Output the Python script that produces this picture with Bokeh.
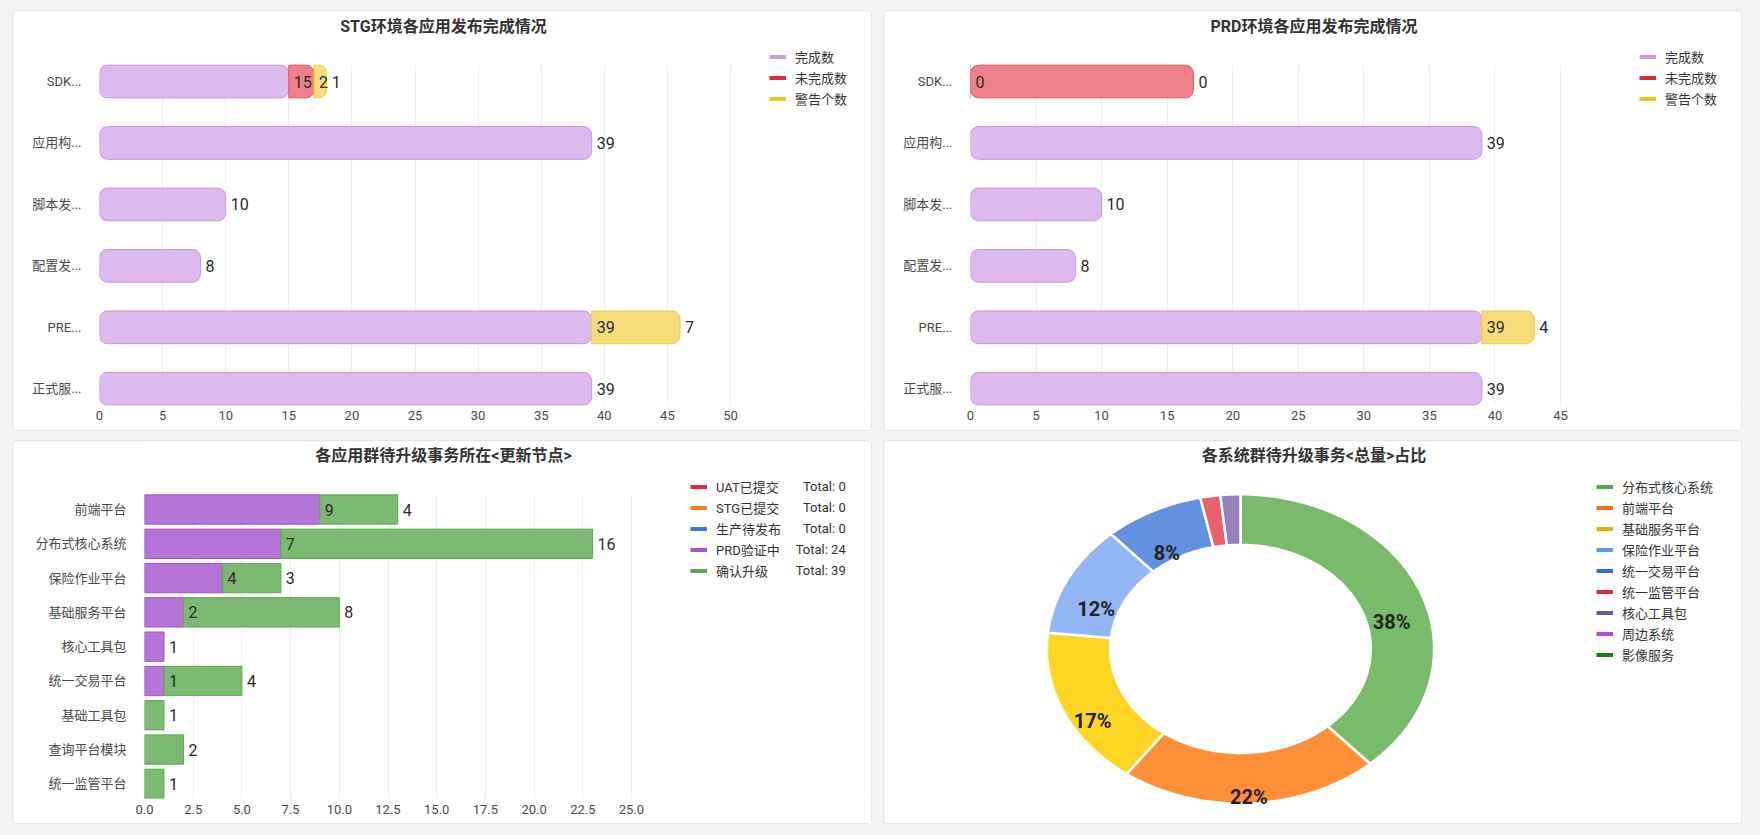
import math
from bokeh.plotting import figure
from bokeh.models import (Range1d, FixedTicker, Legend, LegendItem, Label,
                          ColumnDataSource)
from bokeh.layouts import row, column
from bokeh.embed import file_html
from bokeh.resources import INLINE
from bokeh.core.properties import value

FONT = "Roboto, 'Noto Sans CJK SC', sans-serif"

# ---------------------------------------------------------------- data
release_apps = ["SDK...", "应用构...", "脚本发...", "配置发...", "PRE...", "正式服..."]
release_series = ["完成数", "未完成数", "警告个数"]

stg_done = [15, 39, 10, 8, 39, 39]
stg_undone = [2, None, None, None, None, None]
stg_warn = [1, None, None, None, 7, None]
stg_ticks = [0, 5, 10, 15, 20, 25, 30, 35, 40, 45, 50]

prd_done = [0, 39, 10, 8, 39, 39]
prd_undone = [17, None, None, None, None, None]
prd_undone_text = ["0", None, None, None, None, None]
prd_warn = [None, None, None, None, 4, None]
prd_ticks = [0, 5, 10, 15, 20, 25, 30, 35, 40, 45]

groups = ["前端平台", "分布式核心系统", "保险作业平台", "基础服务平台", "核心工具包",
          "统一交易平台", "基础工具包", "查询平台模块", "统一监管平台"]
stage_names = ["UAT已提交", "STG已提交", "生产待发布", "PRD验证中", "确认升级"]
stage_uat = [0, 0, 0, 0, 0, 0, 0, 0, 0]
stage_stg = [0, 0, 0, 0, 0, 0, 0, 0, 0]
stage_pending = [0, 0, 0, 0, 0, 0, 0, 0, 0]
stage_prd = [9, 7, 4, 2, 1, 1, 0, 0, 0]
stage_confirmed = [4, 16, 3, 8, 0, 4, 1, 2, 1]
group_ticks = [0, 2.5, 5, 7.5, 10, 12.5, 15, 17.5, 20, 22.5, 25]
group_tick_labels = ["0.0", "2.5", "5.0", "7.5", "10.0", "12.5", "15.0",
                     "17.5", "20.0", "22.5", "25.0"]

systems = ["分布式核心系统", "前端平台", "基础服务平台", "保险作业平台", "统一交易平台",
           "统一监管平台", "核心工具包", "周边系统", "影像服务"]
system_counts = [23, 13, 10, 7, 5, 1, 1, 0, 0]

# ---------------------------------------------------------------- styles
REL_FILL = ["#ddbaed", "#ef7f88", "#f7dc79"]
REL_LINE = ["#c892e3", "#e2535f", "#f0cb45"]
REL_LEG = ["#cf9ae6", "#e0283c", "#f5c518"]
STAGE_FILL = ["#e0283c", "#ff7a1a", "#3579d9", "#b574d8", "#7cb972"]
STAGE_LINE = ["#c81e30", "#e8680f", "#2a64b8", "#9d55c8", "#5ea654"]
STAGE_LEG = ["#e0283c", "#ff7a1a", "#3579d9", "#a257d0", "#5ba653"]
PIE_FILL = ["#78bc6b", "#ff9038", "#ffd523", "#93b6f5", "#6392e0", "#e8616d",
            "#9582b8", "#b14fd6", "#1b7c1b"]
PIE_LEG = ["#55a84a", "#ff6a14", "#e0b300", "#5c9cf0", "#2e72d8", "#e0273b",
           "#6c57a3", "#b14fd6", "#1b7c1b"]
CARD = {"border": "1px solid #e4e7ea", "border-radius": "4px", "overflow": "hidden"}
TEXT_DARK = "#333333"
AXIS_TEXT = "#4a4a4a"
GRID = "#eeeeee"
NAN = float("nan")


def drop_title(p):
    try:
        p.title = None
    except Exception:
        p.title.visible = False


def make_figure(W, H, L, B, xr, yr, **kw):
    p = figure(width=W, height=H, output_backend="svg", toolbar_location=None,
               x_range=xr, y_range=yr,
               min_border_left=L, min_border_right=0, min_border_top=0,
               min_border_bottom=B, outline_line_color=None,
               background_fill_color="white", border_fill_color="white", styles=CARD,
               **kw)
    drop_title(p)
    try:
        p.frame_align = False      # keep each panel's frame independent of its neighbour
    except Exception:
        pass
    return p


def bar_figure(W, H, L, B, xppu, c0, pitch):
    # frame spans from the left axis to the right edge and from the top edge to the x axis
    xr = Range1d(0, (W - L) / xppu)
    yr = Range1d((H - B - c0) / pitch, -c0 / pitch)
    return make_figure(W, H, L, B, xr, yr)


def style_axes(p, y_names, x_ticks, x_labels, xstand, ystand, grid_top, grid_bottom):
    p.ygrid.visible = False
    p.xgrid.grid_line_color = GRID
    p.xgrid.ticker = FixedTicker(ticks=x_ticks)
    try:
        p.xgrid.cross_bounds = (min(grid_top, grid_bottom), max(grid_top, grid_bottom))
    except Exception:
        p.xgrid.visible = False
        p.segment(x0=x_ticks, x1=x_ticks, y0=[grid_top] * len(x_ticks),
                  y1=[grid_bottom] * len(x_ticks), line_color=GRID, line_width=1)
    p.xaxis.ticker = FixedTicker(ticks=x_ticks)
    if x_labels is not None:
        p.xaxis.major_label_overrides = {t: s for t, s in zip(x_ticks, x_labels)}
    p.yaxis.ticker = FixedTicker(ticks=list(range(len(y_names))))
    p.yaxis.major_label_overrides = {i: s for i, s in enumerate(y_names)}
    for ax, st in ((p.xaxis, xstand), (p.yaxis, ystand)):
        ax.axis_line_color = None
        ax.major_tick_line_color = None
        ax.minor_tick_line_color = None
        ax.major_tick_out = 0
        ax.major_tick_in = 0
        ax.minor_tick_out = 0
        ax.major_label_text_font = FONT
        ax.major_label_text_font_size = "13px"
        ax.major_label_text_color = AXIS_TEXT
        ax.major_label_standoff = st


def add_title(p, text, cx, cy, L, H, B):
    p.add_layout(Label(x=cx - L, y=(H - B) - cy, x_units="screen", y_units="screen",
                       text=text, text_align="center", text_baseline="middle",
                       text_font=FONT, text_font_size="16px", text_font_style="bold",
                       text_color=TEXT_DARK))


ROW_H = 21


def add_legend(p, names, colors, sw_left, first_cy, L, H, B, extra=None):
    rends = [p.line(x=[NAN], y=[NAN], line_color=c, line_width=4) for c in colors]
    top = first_cy - ROW_H / 2
    vy = (H - B) - (top + ROW_H * len(names))
    common = dict(orientation="vertical", padding=0, spacing=0, margin=0,
                  glyph_height=ROW_H, label_height=ROW_H,
                  label_text_font=FONT, label_text_font_size="13px",
                  label_text_color=TEXT_DARK, border_line_color=None,
                  background_fill_alpha=0)
    leg = Legend(items=[LegendItem(label=n, renderers=[r]) for n, r in zip(names, rends)],
                 location=(sw_left - L, vy), glyph_width=17, label_standoff=9, **common)
    p.add_layout(leg)
    if extra is not None:
        texts, text_left = extra
        ghosts = [p.line(x=[NAN], y=[NAN], line_alpha=0) for _ in texts]
        leg2 = Legend(items=[LegendItem(label=t, renderers=[g]) for t, g in zip(texts, ghosts)],
                      location=(text_left - L, vy), glyph_width=0, label_standoff=0,
                      **common)
        p.add_layout(leg2)


def stacked(p, series, texts, fills, lines, height, full_radius, seg_radius, label_size):
    n = len(series[0])
    base = [0.0] * n
    label_sources = []
    for k, vals in enumerate(series):
        groups_by_radius = {}
        for i, v in enumerate(vals):
            if v is None:
                continue
            left = base[i]
            rad = full_radius if left == 0 else seg_radius
            g = groups_by_radius.setdefault(str(rad), (rad, dict(y=[], left=[], right=[], label=[])))
            d = g[1]
            d["y"].append(i)
            d["left"].append(left)
            d["right"].append(left + v)
            t = texts[k][i] if texts[k] is not None and texts[k][i] is not None else str(v)
            d["label"].append(t)
            base[i] += v
        for rad, d in groups_by_radius.values():
            src = ColumnDataSource(d)
            kw = dict(y="y", left="left", right="right", height=height, source=src,
                      fill_color=fills[k], line_color=lines[k], line_width=1)
            try:
                p.hbar(border_radius=rad, **kw)
            except Exception:
                p.hbar(**kw)
            label_sources.append(src)
    for src in label_sources:
        p.text(x="right", y="y", text="label", source=src, x_offset=5,
               text_baseline="middle", text_align="left", text_font=value(FONT),
               text_font_size=label_size, text_color="#2b2b2b")


# ---------------------------------------------------------------- release charts
def release_chart(title, done, undone, undone_text, warn, ticks, W, frame_w):
    H, L, B = 421, 86, 27
    C0, PITCH = 70, 61.46
    p = bar_figure(W, H, L, B, frame_w / ticks[-1], C0, PITCH)
    style_axes(p, release_apps, ticks, None, 5, 18, (54 - C0) / PITCH,
               (H - B - C0) / PITCH)
    stacked(p, [done, undone, warn], [None, undone_text, None], REL_FILL, REL_LINE,
            0.532, 8, (0, 8, 8, 0), "16px")
    add_title(p, title, W / 2, 15, L, H, B)
    add_legend(p, release_series, REL_LEG, W - 104, 45.7, L, H, B)
    return p


p1 = release_chart("STG环境各应用发布完成情况", stg_done, stg_undone, None, stg_warn,
                   stg_ticks, 860, 631)
p2 = release_chart("PRD环境各应用发布完成情况", prd_done, prd_undone, prd_undone_text, prd_warn,
                   prd_ticks, 859, 590)

# ---------------------------------------------------------------- stage chart
W3, H3, L3, B3 = 860, 384, 131, 27
C3, P3 = 68, 34.29
p3 = bar_figure(W3, H3, L3, B3, 487 / group_ticks[-1], C3, P3)
style_axes(p3, groups, group_ticks, group_tick_labels, 6, 18, (54 - C3) / P3,
           (H3 - B3 - C3) / P3)
stage_series = [stage_uat, stage_stg, stage_pending, stage_prd, stage_confirmed]
stacked(p3, [[v if v > 0 else None for v in s] for s in stage_series],
        [None] * 5, STAGE_FILL, STAGE_LINE, 0.855, 0, 0, "16px")
add_title(p3, "各应用群待升级事务所在<更新节点>", W3 / 2, 14, L3, H3, B3)
totals = ["Total: %d" % sum(s) for s in stage_series]
width_max = max(len(t) for t in totals)
totals = ["\u2007" * (width_max - len(t)) + t for t in totals]
add_legend(p3, stage_names, STAGE_LEG, 677, 45.5, L3, H3, B3, extra=(totals, 782.7))

# ---------------------------------------------------------------- donut
# frame = whole canvas, one data unit = one pixel (y downwards)
W4, H4 = 859, 384
p4 = make_figure(W4, H4, 0, 0, Range1d(0, W4), Range1d(H4, 0),
                 x_axis_type=None, y_axis_type=None)
CX, CY, RX, RY, INNER = 356, 207.4, 193.6, 154.6, 0.673
total = sum(system_counts)
xs, ys, cols, lx, ly, lt = [], [], [], [], [], []
acc = 0.0
for name, v, c in zip(systems, system_counts, PIE_FILL):
    if v <= 0:
        continue
    a0 = acc / total * 2 * math.pi
    a1 = (acc + v) / total * 2 * math.pi
    acc += v
    steps = max(3, int(math.degrees(a1 - a0) / 1.5) + 1)
    outer = [a0 + (a1 - a0) * j / steps for j in range(steps + 1)]
    px = [CX + RX * math.sin(a) for a in outer] + \
         [CX + RX * INNER * math.sin(a) for a in reversed(outer)]
    py = [CY - RY * math.cos(a) for a in outer] + \
         [CY - RY * INNER * math.cos(a) for a in reversed(outer)]
    xs.append(px)
    ys.append(py)
    cols.append(c)
    pct = v / total * 100
    if pct >= 5:
        am = (a0 + a1) / 2
        rm = (1 + INNER) / 2
        lx.append(CX + RX * rm * math.sin(am))
        ly.append(CY - RY * rm * math.cos(am))
        lt.append("%d%%" % round(pct))
p4.patches(xs=xs, ys=ys, fill_color=cols, line_color="white", line_width=2.5)
p4.text(x=lx, y=ly, text=lt, y_offset=19, text_align="center", text_baseline="middle",
        text_font=value(FONT), text_font_size="20px", text_font_style="bold",
        text_color="#222222")
add_title(p4, "各系统群待升级事务<总量>占比", W4 / 2, 14.3, 0, H4, 0)
add_legend(p4, systems, PIE_LEG, 712, 45.5, 0, H4, 0)

# ---------------------------------------------------------------- layout
inner = column(row(p1, p2, spacing=11), row(p3, p4, spacing=11), spacing=9,
               margin=(10, 0, 0, 12))
root = column(inner, width=1760, height=835, styles={"background-color": "#f2f4f5"})

open("out.html", "w").write(file_html(root, INLINE))
